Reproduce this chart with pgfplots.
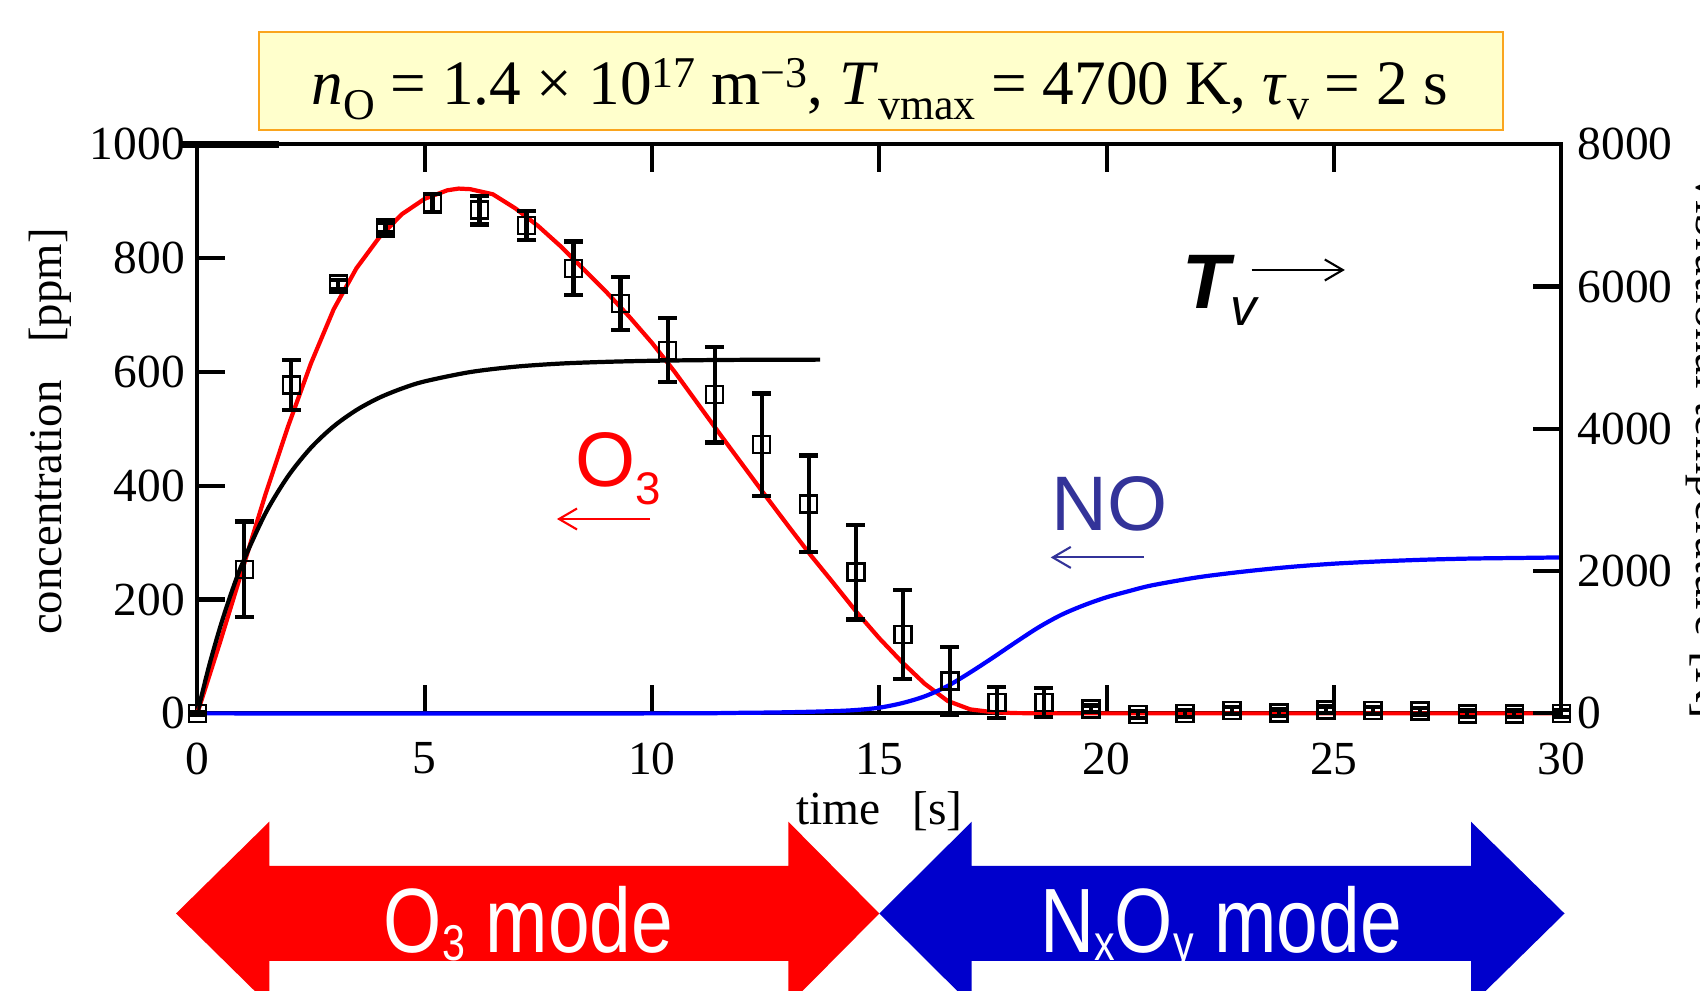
\documentclass[border=0pt]{standalone}
\usepackage{pgfplots}
\pgfplotsset{compat=1.18}
\usepackage{pgfplotstable}
\usepackage{fontspec}
\setmainfont{Liberation Serif}
\newfontfamily\arial{Liberation Sans}
\usetikzlibrary{arrows.meta}
\definecolor{myred}{RGB}{255,0,0}
\definecolor{myblue}{RGB}{0,0,255}
\definecolor{arrowblue}{RGB}{0,0,204}
\definecolor{noblue}{RGB}{51,51,153}
\definecolor{boxfill}{RGB}{255,255,204}
\definecolor{boxedge}{RGB}{250,165,30}

% measured O3 concentration [ppm] with error
\pgfplotstableread{
t      c    e
0.000  0    3
1.034  253  84
2.069  577  44
3.103  754  8
4.138  853  8
5.172  897  16
6.207  884  25
7.241  857  25
8.276  782  47
9.310  720  47
10.345 638  56
11.379 560  84
12.414 472  90
13.448 368  85
14.483 248  83
15.517 139  78
16.552 57   60
17.586 19   27
18.621 19   25
19.655 8    6
20.690 -2   6
21.724 0    6
22.759 5    6
23.793 1    6
24.828 6    6
25.862 5    6
26.897 4    6
27.931 -1   6
28.966 -1   6
30.000 0    6
}\meas

% calculated O3 [ppm]
\pgfplotstableread{
t     y
0     0
0.5   125
1.0   255
1.5   385
2.0   505
2.5   615
3.0   710
3.5   782
4.0   836
4.5   877
5.0   904
5.5   919
5.75  922
6.0   921
6.5   912
7.0   887
7.5   856
8.0   820
8.5   780
9.0   740
9.5   697
10.0  651
10.5  600
11.0  545
11.5  490
12.0  436
12.5  382
13.0  329
13.5  277
14.0  228
14.5  178
15.0  132
15.5  90
16.0  52
16.5  22
17.0  7
17.5  2
18.0  0.5
19.0  0
30.0  0
}\ozone

% calculated NO [ppm]
\pgfplotstableread{
t     y
0     0
10    0
12    1
13    2
14    4
14.5  6
15    10
15.5  18
16    30
16.5  48
17    72
17.5  98
18    125
18.5  151
19    173
19.5  190
20    204
20.5  215
21    225
22    239
23    249
24    257
25    263
26    267
27    270
28    272
29    273
30    274
}\nomono

% vibrational temperature [K]
\pgfplotstableread{
t     y
0     0
0.25  645
0.5   1206
0.75  1696
1.0   2120
1.5   2813
2.0   3337
2.5   3734
3.0   4035
3.5   4263
4.0   4436
4.5   4566
5.0   4666
6.0   4797
7.0   4873
8.0   4917
9.0   4941
10.0  4956
11.0  4964
12.0  4969
13.7  4972
}\tvib

\pgfplotsset{
  common/.style={
    at={(19.73mm,27.76mm)}, anchor=south west,
    scale only axis, width=136.4mm, height=56.92mm,
    xmin=0, xmax=30,
    tick align=inside, major tick length=2.8mm,
    axis line style={line width=1.2pt},
    every tick/.style={black, line width=1.2pt},
    tick label style={font=\fontsize{13.5}{15}\selectfont},
    /pgf/number format/assume math mode=true,
    /pgf/number format/1000 sep={},
  }
}

\begin{document}
\begin{tikzpicture}
\useasboundingbox (0,0) rectangle (170mm,99.1mm);

% bottom mode arrows
\begin{scope}
\clip (0,0) rectangle (170mm,99.1mm);
\fill[myred] (17.6mm,7.75mm) -- (26.93mm,16.93mm) -- (26.93mm,12.5mm) -- (78.83mm,12.5mm)
  -- (78.83mm,16.93mm) -- (87.93mm,7.75mm) -- (78.83mm,-1.43mm) -- (78.83mm,3.0mm)
  -- (26.93mm,3.0mm) -- (26.93mm,-1.43mm) -- cycle;
\fill[arrowblue] (87.93mm,7.75mm) -- (97.17mm,16.93mm) -- (97.17mm,12.5mm) -- (147.1mm,12.5mm)
  -- (147.1mm,16.93mm) -- (156.45mm,7.75mm) -- (147.1mm,-1.43mm) -- (147.1mm,3.0mm)
  -- (97.17mm,3.0mm) -- (97.17mm,-1.43mm) -- cycle;
\node[anchor=base, inner sep=0, white] at (52.85mm,3.87mm)
  {\scalebox{0.82}[1]{\arial\fontsize{26}{28}\selectfont O\raisebox{-0.8mm}{\fontsize{14.3}{15}\selectfont 3} mode}};
\node[anchor=base, inner sep=0, white] at (122.1mm,3.87mm)
  {\scalebox{0.82}[1]{\arial\fontsize{26}{28}\selectfont N\raisebox{-0.8mm}{\fontsize{14.3}{15}\selectfont x}O\raisebox{-0.8mm}{\fontsize{14.3}{15}\selectfont y} mode}};
\end{scope}

% title box
\draw[boxedge, line width=0.6pt, fill=boxfill] (25.9mm,86.1mm) rectangle (150.3mm,95.87mm);
\node[anchor=base, inner sep=0] at (88.0mm,88.6mm) {\fontsize{18}{20}\selectfont
  \textit{n}\raisebox{-1.5mm}{\fontsize{12.5}{12}\selectfont O} = 1.4 × 10\raisebox{1.7mm}{\fontsize{12.5}{12}\selectfont 17} m\raisebox{1.7mm}{\fontsize{12.5}{12}\selectfont −3}, \textit{T}\raisebox{-1.5mm}{\fontsize{12.5}{12}\selectfont vmax} = 4700 K, \textit{τ}\raisebox{-1.5mm}{\fontsize{12.5}{12}\selectfont v} = 2 s};

% left axis: concentration
\begin{axis}[common,
  ymin=0, ymax=1000,
  xtick={0,5,...,30}, ytick={0,200,...,1000},
  xtick pos=both, ytick pos=left,
  xticklabel style={yshift=-1.7mm},
  clip=false,
]
\addplot[myred, line width=1.2pt] table[x=t,y=y] {\ozone};
\addplot[myblue, line width=1.2pt, smooth, tension=0.5] table[x=t,y=y] {\nomono};
\addplot[black, only marks, mark=square, mark size=0.85mm,
  mark options={line width=0.7pt, black},
  error bars/.cd, y dir=both, y explicit,
  error bar style={line width=1.2pt, black},
  error mark options={rotate=90, mark size=0.95mm, line width=1.2pt, black}]
  table[x=t, y=c, y error=e] {\meas};
\draw[line width=2pt] (axis cs:-0.33,1000) -- (axis cs:1.8,1000);
% annotations
\node[anchor=base west, inner sep=0, myred] at (axis cs:8.30,398)
  {\arial\fontsize{22}{24}\selectfont O\raisebox{-1.8mm}{\fontsize{13}{13}\selectfont 3}};
\draw[myred, line width=0.6pt, -{Straight Barb[length=1.8mm,width=2.1mm]}] (axis cs:9.96,341.5) -- (axis cs:7.91,341.5);
\node[anchor=base west, inner sep=0, noblue] at (axis cs:18.77,322)
  {\arial\fontsize{22}{24}\selectfont NO};
\draw[noblue, line width=0.6pt, -{Straight Barb[length=1.8mm,width=2.1mm]}] (axis cs:20.82,274) -- (axis cs:18.77,274);
\node[anchor=base west, inner sep=0, black] at (axis cs:21.66,712)
  {\arial\fontsize{22}{24}\selectfont\bfseries\itshape T\mdseries\raisebox{-1.7mm}{\fontsize{15}{15}\selectfont v}};
\draw[black, line width=0.6pt, -{Straight Barb[length=1.8mm,width=2.1mm]}] (axis cs:23.19,779) -- (axis cs:25.24,779);
\end{axis}

% right axis: vibrational temperature
\begin{axis}[common,
  ymin=0, ymax=8000,
  axis x line=none, axis y line*=right,
  ytick={0,2000,...,8000},
  yticklabel style={xshift=0.4mm},
]
\addplot[black, line width=1.2pt, smooth, tension=0.5] table[x=t,y=y] {\tvib};
\end{axis}

% axis titles
\node[anchor=base, inner sep=0, rotate=90] at (6.17mm,55.93mm)
  {\fontsize{13.3}{16}\selectfont concentration\hspace{3.8mm}[ppm]};
\node[anchor=base, inner sep=0, rotate=-90] at (169.6mm,54.35mm)
  {\fontsize{14}{16}\selectfont vibrational temperature\hspace{1.5mm}[K]};
\node[anchor=base, inner sep=0] at (87.93mm,16.6mm)
  {\fontsize{13.5}{16}\selectfont time\hspace{3.2mm}[s]};
\end{tikzpicture}
\end{document}
